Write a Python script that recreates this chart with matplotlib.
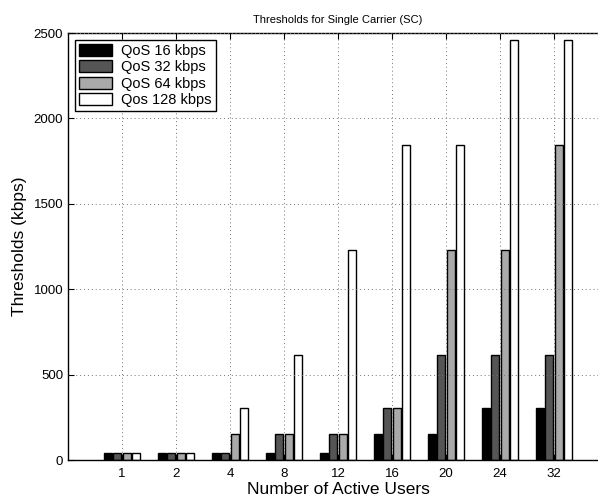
import numpy as np
import matplotlib.pyplot as plt

plt.rcParams['font.family'] = ['Liberation Sans', 'DejaVu Sans']

users = ['1', '2', '4', '8', '12', '16', '20', '24', '32']
qos16 = [38.4, 38.4, 38.4, 38.4, 38.4, 153.6, 153.6, 307.2, 307.2]
qos32 = [38.4, 38.4, 38.4, 153.6, 153.6, 307.2, 614.4, 614.4, 614.4]
qos64 = [38.4, 38.4, 153.6, 153.6, 153.6, 307.2, 1228.8, 1228.8, 1843.2]
qos128 = [38.4, 38.4, 307.2, 614.4, 1228.8, 1843.2, 1843.2, 2457.6, 2457.6]

series = [qos16, qos32, qos64, qos128]
labels = ['QoS 16 kbps', 'QoS 32 kbps', 'QoS 64 kbps', 'Qos 128 kbps']
colors = ['#000000', '#555555', '#aaaaaa', '#ffffff']

fig = plt.figure(figsize=(5.98, 4.97), dpi=100)
# axes run a little past the right edge of the figure
ax = fig.add_axes([0.1137, 0.0744, 0.903, 0.859])
ax.patch.set_visible(False)

x = np.arange(1, len(users) + 1)
step = 0.175
width = 0.155
for i, (vals, lab, col) in enumerate(zip(series, labels, colors)):
    ax.bar(x + (i - 1.5) * step, vals, width, color=col, edgecolor='black',
           linewidth=1.0, label=lab)

ax.set_xlim(0, 10)
ax.set_ylim(0, 2500)
ax.set_xticks(x)
ax.set_xticklabels(users)
ax.set_yticks(np.arange(0, 2501, 500))
ax.tick_params(direction='in', top=True, right=False, labelsize=9.5, length=4)
ax.tick_params(axis='x', pad=6)
ax.spines['right'].set_visible(False)
ax.set_axisbelow(False)
ax.grid(True, linestyle=(0, (1, 3)), color='0.45', linewidth=0.7)
for s in ax.spines.values():
    s.set_linewidth(1.0)

ax.set_title('Thresholds for Single Carrier (SC)', fontsize=8, pad=7)
ax.set_xlabel('Number of Active Users', fontsize=12.5, labelpad=1)
ax.set_ylabel('Thresholds (kbps)', fontsize=12.5, labelpad=5)

leg = ax.legend(loc='upper left', fontsize=10.5, fancybox=False, framealpha=1,
                edgecolor='black', handlelength=2.3, handleheight=0.9,
                borderaxespad=0.45, labelspacing=0.15, borderpad=0.3,
                handletextpad=0.6)
leg.get_frame().set_linewidth(1.0)

fig.savefig('out.png', dpi=100)
